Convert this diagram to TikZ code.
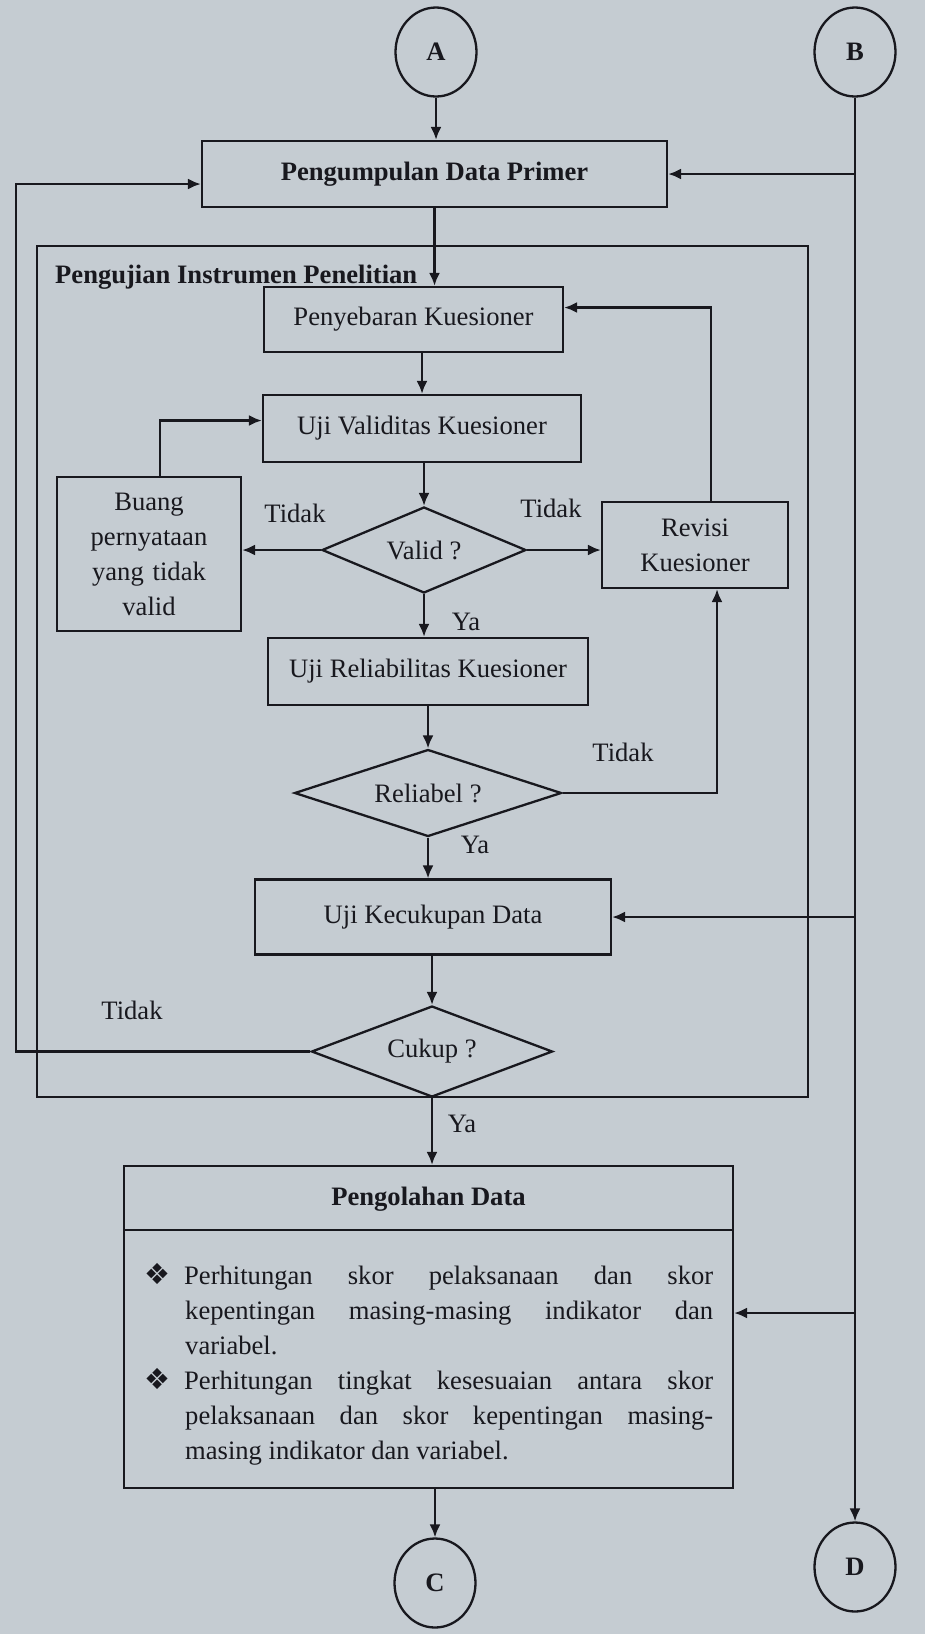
\documentclass[tikz,border=0pt]{standalone}
\usepackage{fontspec}
\setmainfont{Liberation Serif}
\newfontfamily\simbol{DejaVu Sans}
\usepackage{tikz}
\usetikzlibrary{positioning, shapes.geometric, arrows.meta}

\definecolor{kertas}{RGB}{197,204,210}
\definecolor{tinta}{RGB}{24,24,30}
\newcommand{\ukuranhuruf}{\fontsize{26.6}{35}\selectfont}
\newcommand{\butir}{\makebox[40pt][l]{\simbol\fontsize{29}{35}\selectfont ❖}}

\begin{document}
\begin{tikzpicture}[
    x=1pt, y=-1pt,
    color=tinta,
    font=\ukuranhuruf,
    % Define the style for the process boxes
    proses/.style={rectangle, draw, line width=2.3pt, inner sep=0pt, align=center},
    % Decisions and page connectors
    keputusan/.style={diamond, aspect=3, draw, line width=2.3pt, inner sep=0pt},
    konektor/.style={ellipse, draw, line width=2.3pt, minimum width=81pt, minimum height=89pt, inner sep=0pt, font=\ukuranhuruf\bfseries},
    ket/.style={inner sep=0pt},
    panah/.style={line width=2.3pt, -{Latex[length=13pt,width=11pt]}},
    garis/.style={line width=2.3pt}
]

    % --- Page ---
    \fill[kertas] (0,0) rectangle (925,1634);
    \useasboundingbox (0,0) rectangle (925,1634);

    % --- Connectors A, B, C, D ---
    \foreach \nama/\px/\py in {A/436/52, B/855/52, C/435/1583, D/855/1567} {
        \node[konektor] (\nama) at (\px,\py) {\nama};
    }

    % --- Data collection ---
    \node[proses, minimum width=465pt, minimum height=66pt, font=\ukuranhuruf\bfseries] (pengumpulan) at (434.5,174) {Pengumpulan Data Primer};

    % --- Instrument testing (outer frame) ---
    \node[proses, minimum width=771pt, minimum height=851pt] (pengujian) at (422.5,671.5) {};
    \node[ket, font=\ukuranhuruf\bfseries, anchor=base west] (judulUji) at (55,283) {Pengujian Instrumen Penelitian};

    \node[proses, minimum width=299pt, minimum height=65pt] (penyebaran) at (413.5,319.5) {Penyebaran Kuesioner};
    \node[proses, minimum width=318pt, minimum height=67pt] (validitas) at (422,428.5) {Uji Validitas Kuesioner};
    \node[keputusan, minimum width=204pt, minimum height=86pt] (valid) at (424,550) {Valid ?};
    \node[proses, minimum width=184pt, minimum height=154pt, text width=184pt] (buang) at (149,554) {Buang\\ pernyataan\\ yang tidak\\ valid};
    \node[proses, minimum width=186pt, minimum height=86pt] (revisi) at (695,545) {Revisi\\ Kuesioner};
    \node[proses, minimum width=320pt, minimum height=67pt] (reliabilitas) at (428,671.5) {Uji Reliabilitas Kuesioner};
    \node[keputusan, minimum width=267pt, minimum height=87pt] (reliabel) at (428,793) {Reliabel ?};
    \node[proses, minimum width=356pt, minimum height=75pt] (kecukupan) at (433,917) {Uji Kecukupan Data};
    \node[keputusan, minimum width=241pt, minimum height=91pt] (cukup) at (432,1051.5) {Cukup ?};

    % --- Data processing ---
    \node[proses, minimum width=609pt, minimum height=322pt] (pengolahan) at (428.5,1327) {};
    \draw[garis] ([yshift=-65pt]pengolahan.north west) -- ([yshift=-65pt]pengolahan.north east);
    \node[ket, font=\ukuranhuruf\bfseries] (judulOlah) at (428.5,1199) {Pengolahan Data};
    \node[ket, text width=569pt, align=justify, anchor=north west] (isiOlah) at (144,1263) {%
        \tolerance=10000\hbadness=10000
        \hangindent=41pt\hangafter=1\butir Perhitungan skor pelaksanaan dan skor\linebreak
        kepentingan masing-masing indikator dan\linebreak variabel.\par
        \hangindent=41pt\hangafter=1\butir Perhitungan tingkat kesesuaian antara skor\linebreak
        pelaksanaan dan skor kepentingan masing-\linebreak masing indikator dan variabel.\par};

    % --- Branch labels ---
    \node[ket] (tidakKiri) at (295,513) {Tidak};
    \node[ket] (tidakKanan) at (551,508) {Tidak};
    \node[ket] (yaValid) at (466,622) {Ya};
    \node[ket] (tidakReliabel) at (623,752) {Tidak};
    \node[ket] (yaReliabel) at (475,845) {Ya};
    \node[ket] (tidakCukup) at (132,1010) {Tidak};
    \node[ket] (yaCukup) at (462,1124) {Ya};

    % --- Main flow ---
    \draw[panah] (A) -- (A |- pengumpulan.north);
    \draw[panah] (pengumpulan.south) -- (pengumpulan.south |- penyebaran.north);
    \draw[panah] (validitas.north |- penyebaran.south) -- (validitas.north);
    \draw[panah] (valid.north |- validitas.south) -- (valid.north);
    \draw[panah] (valid.south) -- (valid.south |- reliabilitas.north);
    \draw[panah] (reliabel.north |- reliabilitas.south) -- (reliabel.north);
    \draw[panah] (reliabel.south) -- (reliabel.south |- kecukupan.north);
    \draw[panah] (cukup.north |- kecukupan.south) -- (cukup.north);
    \draw[panah] (cukup.south) -- (cukup.south |- pengolahan.north);
    \draw[panah] (C.north |- pengolahan.south) -- (C.north);

    % --- Loops back ---
    \draw[panah] (valid.west) -- (valid.west -| buang.east);
    \draw[panah] (valid.east) -- (valid.east -| revisi.west);
    \draw[panah] ([xshift=11pt]buang.north) |- ([yshift=8pt]validitas.west);
    \draw[panah] ([xshift=16pt]revisi.north) |- ([yshift=12pt]penyebaran.east);
    \draw[panah] (reliabel.east) -| ([xshift=22pt]revisi.south);
    \coordinate (kiriLoop) at (16,184);
    \draw[panah] (cukup.west) -| (kiriLoop) -- ([yshift=-10pt]pengumpulan.west);

    % --- Line from B down to D ---
    \coordinate (masukOlah) at ([yshift=14pt]pengolahan.east);
    \draw[panah] (B) -- (D);
    \draw[panah] (pengumpulan.east -| B.south) -- (pengumpulan.east);
    \draw[panah] (kecukupan.east -| B.south) -- (kecukupan.east);
    \draw[panah] (masukOlah -| B.south) -- (masukOlah);

\end{tikzpicture}
\end{document}
